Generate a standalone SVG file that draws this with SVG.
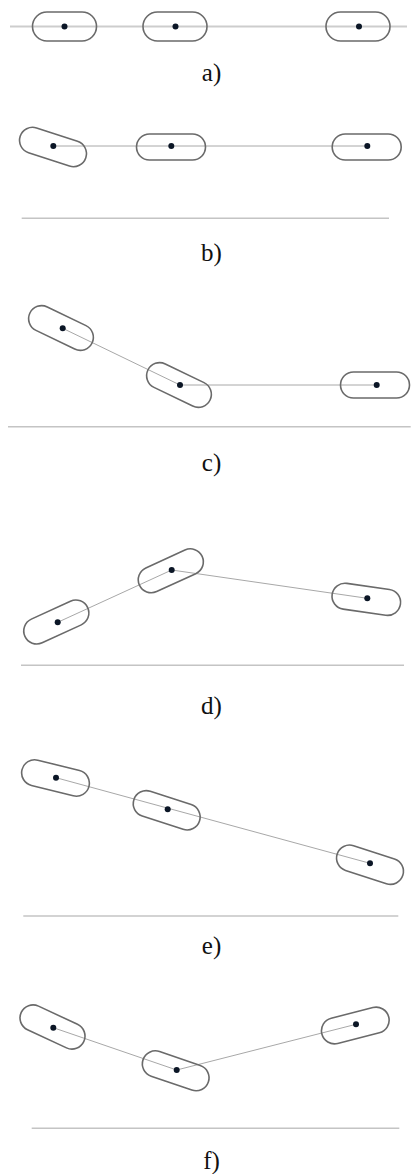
<svg xmlns="http://www.w3.org/2000/svg" width="411" height="1174" viewBox="0 0 411 1174">
<style>
.cap{fill:none;stroke:#6a6a6a;stroke-width:1.6}
.dot{fill:#0b1626}
.lnk{stroke:#a8a8a8;stroke-width:1;fill:none}
.gnd{stroke:#c4c4c4;stroke-width:1.5}
.lbl{font-size:25px;fill:#111;text-anchor:middle}
</style>
<defs>
<rect id="capA" x="-32" y="-14.5" width="64" height="29" rx="14.5"/>
<rect id="cap" x="-34.5" y="-13" width="69" height="26" rx="13"/>
</defs>
<g id="connectors">
<line x1="10" y1="26.5" x2="407" y2="26.5" stroke="#cdcdcd" stroke-width="2"/>
<line class="lnk" x1="53.3" y1="146" x2="367.3" y2="146"/>
<line class="gnd" x1="21.7" y1="218.3" x2="389" y2="218.3"/>
<polyline class="lnk" points="62.7,328.3 180,385 376.7,385"/>
<line class="gnd" x1="8" y1="426.7" x2="410.7" y2="426.7"/>
<polyline class="lnk" points="57.7,622.3 171.7,570 367.3,598.3"/>
<line class="gnd" x1="21" y1="665.3" x2="404" y2="665.3"/>
<line class="lnk" x1="56" y1="777.7" x2="370" y2="863.3"/>
<line class="gnd" x1="23.3" y1="916" x2="398.3" y2="916"/>
<polyline class="lnk" points="53.3,1027.7 176.7,1070 356,1024.3"/>
<line class="gnd" x1="31.7" y1="1128.3" x2="399.3" y2="1128.3"/>
</g>
<g id="a1"><use href="#capA" class="cap" transform="translate(64.5,26.5)"/><circle class="dot" cx="64.5" cy="26.5" r="3"/></g>
<g id="a2"><use href="#capA" class="cap" transform="translate(175,26.5)"/><circle class="dot" cx="175.5" cy="26.5" r="3"/></g>
<g id="a3"><use href="#capA" class="cap" transform="translate(358,26.5)"/><circle class="dot" cx="359" cy="26.5" r="3"/></g>
<text id="la" class="lbl" font-family="Liberation Serif, Times New Roman, serif" x="211.5" y="80.5">a)</text>

<g id="b1"><use href="#cap" class="cap" transform="translate(53,147) rotate(18)"/><circle class="dot" cx="53.3" cy="146" r="3"/></g>
<g id="b2"><use href="#cap" class="cap" transform="translate(171,147)"/><circle class="dot" cx="171.3" cy="146" r="3"/></g>
<g id="b3"><use href="#cap" class="cap" transform="translate(366.7,147)"/><circle class="dot" cx="367.3" cy="146" r="3"/></g>
<text id="lb" class="lbl" font-family="Liberation Serif, Times New Roman, serif" x="211.5" y="260.5">b)</text>

<g id="c1"><use href="#cap" class="cap" transform="translate(61,328) rotate(25.8)"/><circle class="dot" cx="62.7" cy="328.3" r="3"/></g>
<g id="c2"><use href="#cap" class="cap" transform="translate(179,385) rotate(25.8)"/><circle class="dot" cx="180" cy="385" r="3"/></g>
<g id="c3"><use href="#cap" class="cap" transform="translate(375,385)"/><circle class="dot" cx="376.7" cy="385" r="3"/></g>
<text id="lc" class="lbl" font-family="Liberation Serif, Times New Roman, serif" x="211.5" y="471">c)</text>

<g id="d1"><use href="#cap" class="cap" transform="translate(56.3,622) rotate(-24.6)"/><circle class="dot" cx="57.7" cy="622.3" r="3"/></g>
<g id="d2"><use href="#cap" class="cap" transform="translate(170.8,570.8) rotate(-24.6)"/><circle class="dot" cx="171.7" cy="570" r="3"/></g>
<g id="d3"><use href="#cap" class="cap" transform="translate(366.3,599.3) rotate(8.2)"/><circle class="dot" cx="367.3" cy="598.3" r="3"/></g>
<text id="ld" class="lbl" font-family="Liberation Serif, Times New Roman, serif" x="211.5" y="714">d)</text>

<g id="e1"><use href="#cap" class="cap" transform="translate(55.5,778) rotate(14)"/><circle class="dot" cx="56" cy="777.7" r="3"/></g>
<g id="e2"><use href="#cap" class="cap" transform="translate(166.7,810.3) rotate(18)"/><circle class="dot" cx="167.7" cy="809.3" r="3"/></g>
<g id="e3"><use href="#cap" class="cap" transform="translate(370,864.7) rotate(18)"/><circle class="dot" cx="370" cy="863.3" r="3"/></g>
<text id="le" class="lbl" font-family="Liberation Serif, Times New Roman, serif" x="211.5" y="954">e)</text>

<g id="f1"><use href="#cap" class="cap" transform="translate(52.5,1027) rotate(25)"/><circle class="dot" cx="53.3" cy="1027.7" r="3"/></g>
<g id="f2"><use href="#cap" class="cap" transform="translate(175.7,1070.8) rotate(18.9)"/><circle class="dot" cx="176.7" cy="1070" r="3"/></g>
<g id="f3"><use href="#cap" class="cap" transform="translate(355.3,1025.5) rotate(-14.3)"/><circle class="dot" cx="356" cy="1024.3" r="3"/></g>
<text id="lf" class="lbl" font-family="Liberation Serif, Times New Roman, serif" x="211.5" y="1169">f)</text>
</svg>
